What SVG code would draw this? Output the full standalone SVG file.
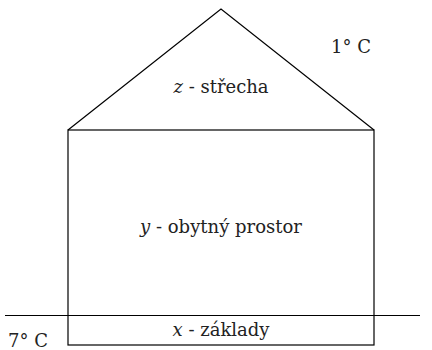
<svg xmlns="http://www.w3.org/2000/svg" width="432" height="350" viewBox="0 0 432 350">
<style>
.l{fill:none;stroke:#000;stroke-width:1.2}
.t{font-family:'DejaVu Serif',serif;font-size:18px;fill:#222}
.i{font-style:italic}
</style>
<rect width="432" height="350" fill="#fff"/>
<g id="connectors">
<line class="l" x1="5" y1="315.5" x2="420" y2="315.5"/>
</g>
<g id="roof">
<polyline class="l" points="68,130 221,9 374,130"/>
<text class="t" x="221" y="93" text-anchor="middle"><tspan class="i">z</tspan> - střecha</text>
</g>
<g id="house">
<rect class="l" x="68" y="130" width="306" height="215"/>
<text class="t" x="221" y="233" text-anchor="middle"><tspan class="i">y</tspan> - obytný prostor</text>
</g>
<g id="foundation">
<text class="t" x="221" y="336" text-anchor="middle"><tspan class="i">x</tspan> - základy</text>
</g>
<g id="t1">
<text class="t" x="351" y="53" text-anchor="middle">1° C</text>
</g>
<g id="t7">
<text class="t" x="28" y="347" text-anchor="middle">7° C</text>
</g>
</svg>
